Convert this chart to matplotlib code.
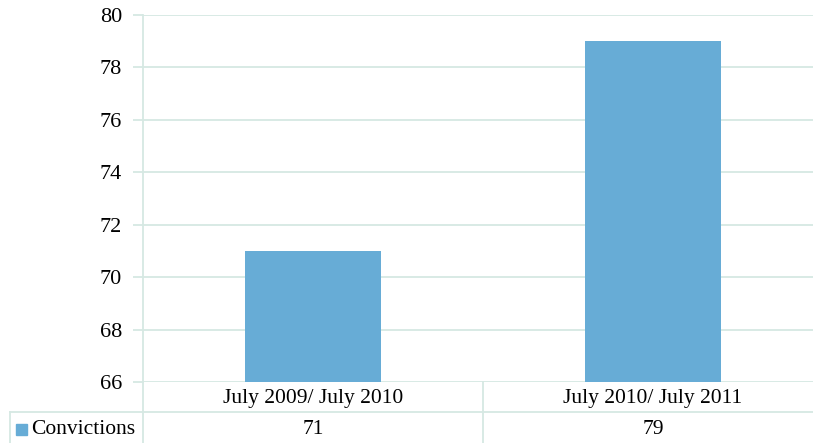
import matplotlib.pyplot as plt
import numpy as np

categories = ['July 2009/ July 2010', 'July 2010/ July 2011']
convictions = [71, 79]
series_name = 'Convictions'
yticks = [66, 68, 70, 72, 74, 76, 78, 80]

bar_color = '#67acd6'
line_color = '#d6e8e3'

W, H = 813, 443
fig = plt.figure(figsize=(W / 100, H / 100), dpi=100)
plt.rcParams['font.family'] = ['Liberation Serif', 'DejaVu Serif']

# axes rectangle in pixels (right side runs a little past the figure edge)
x0, x1, y_top, y_bot = 143, 823, 15, 382
ax = fig.add_axes([x0 / W, 1 - y_bot / H, (x1 - x0) / W, (y_bot - y_top) / H])

x = np.arange(len(categories))
ax.bar(x, convictions, width=0.4, color=bar_color, zorder=3)
ax.set_xlim(-0.5, len(categories) - 0.5)
ax.set_ylim(66, 80)
ax.set_yticks(yticks)
ax.set_yticklabels([str(t) for t in yticks], fontsize=16)
ax.set_xticks([])
ax.grid(axis='y', color=line_color, linewidth=1.3, zorder=0)
ax.tick_params(axis='y', length=7, color=line_color, width=1.3, pad=8)
for s in ['top', 'right', 'bottom']:
    ax.spines[s].set_visible(False)
ax.spines['left'].set_color(line_color)
ax.spines['left'].set_linewidth(1.3)

# data table below the axes
def fx(px):
    return (px - x0) / (x1 - x0)

def fy(py):
    return (y_bot - py) / (y_bot - y_top)

row1 = 412
kw = dict(color=line_color, lw=1.3, transform=ax.transAxes, clip_on=False)
ax.plot([fx(143), fx(143)], [fy(382), fy(443)], **kw)
ax.plot([fx(483), fx(483)], [fy(382), fy(443)], **kw)
ax.plot([fx(10), fx(10)], [fy(row1), fy(443)], **kw)
ax.plot([fx(10), fx(813)], [fy(row1), fy(row1)], **kw)

for i, (c, v) in enumerate(zip(categories, convictions)):
    ax.text(i, fy(398), c, ha='center', va='center', fontsize=15.5,
            transform=ax.get_xaxis_transform())
    ax.text(i, fy(429), str(v), ha='center', va='center', fontsize=15.5,
            transform=ax.get_xaxis_transform())

ax.add_patch(plt.Rectangle((fx(16), fy(435)), fx(27) - fx(16), fy(424) - fy(435),
                           color=bar_color, transform=ax.transAxes, clip_on=False))
ax.text(fx(31), fy(429), series_name, ha='left', va='center', fontsize=15.5,
        transform=ax.transAxes)

fig.savefig('out.png', dpi=100)
